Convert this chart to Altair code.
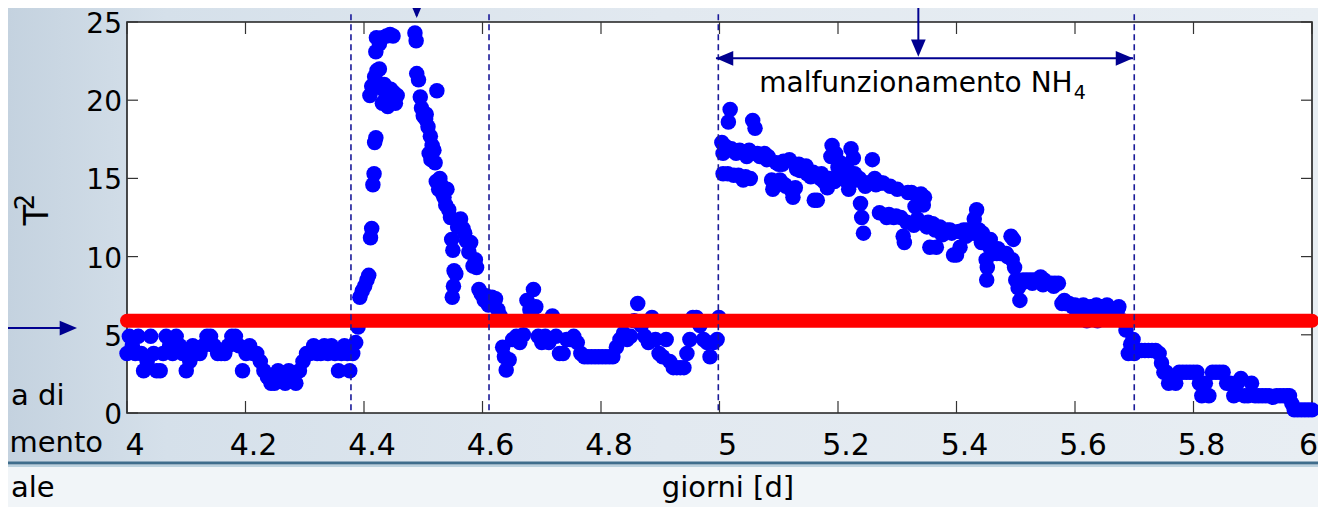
import altair as alt
import pandas as pd

# ---------------- data ----------------
day = [
    # 4.00 - 4.39 (normal operation)
    4.000, 4.004, 4.009, 4.014, 4.019, 4.024, 4.028, 4.034, 4.040, 4.045, 4.050, 4.056, 4.061, 4.066,
    4.072, 4.077, 4.083, 4.089, 4.094, 4.100, 4.106, 4.111, 4.117, 4.123, 4.129, 4.135, 4.141, 4.147,
    4.153, 4.159, 4.165, 4.171, 4.177, 4.183, 4.189, 4.195, 4.201, 4.207, 4.213, 4.219, 4.225, 4.231,
    4.237, 4.243, 4.249, 4.255, 4.261, 4.267, 4.273, 4.279, 4.285, 4.291, 4.297, 4.303, 4.309, 4.315,
    4.321, 4.327, 4.333, 4.339, 4.345, 4.351, 4.357, 4.362, 4.367, 4.372, 4.376, 4.381, 4.386, 4.390,
    # rise
    4.393, 4.397, 4.401, 4.405, 4.408, 4.411, 4.413, 4.415, 4.417, 4.418, 4.420,
    4.420, 4.421, 4.426, 4.431, 4.438, 4.444, 4.449,
    4.410, 4.413, 4.418, 4.422, 4.426, 4.428, 4.431, 4.434, 4.437, 4.440, 4.445, 4.450, 4.453, 4.456,
    # decay
    4.486, 4.488, 4.489, 4.492, 4.523, 4.497, 4.500, 4.504, 4.508, 4.512, 4.515, 4.510, 4.513, 4.518,
    4.522, 4.526, 4.530, 4.535, 4.540, 4.543, 4.546, 4.548, 4.550, 4.552, 4.551, 4.549, 4.555, 4.558,
    4.563, 4.567, 4.573, 4.580, 4.584, 4.590, 4.594, 4.598, 4.603, 4.610, 4.616, 4.622, 4.626, 4.630,
    4.495, 4.505, 4.520, 4.528, 4.533, 4.538, 4.560, 4.570, 4.577, 4.588, 4.606, 4.618,
    # 4.63 - 5.00
    4.634, 4.637, 4.640, 4.645, 4.651, 4.657, 4.663, 4.669, 4.675, 4.680, 4.686, 4.690, 4.694, 4.700,
    4.706, 4.712, 4.718, 4.724, 4.730, 4.736, 4.742, 4.748, 4.754, 4.760, 4.766, 4.772, 4.778, 4.784,
    4.790, 4.796, 4.802, 4.808, 4.814, 4.820, 4.826, 4.832, 4.838, 4.844, 4.850, 4.856, 4.862, 4.868,
    4.874, 4.880, 4.886, 4.892, 4.898, 4.904, 4.910, 4.916, 4.922, 4.928, 4.934, 4.940, 4.945, 4.950,
    4.955, 4.961, 4.967, 4.973, 4.979, 4.984, 4.990, 4.996, 4.999,
    # 5.00 - 5.70 (NH4 malfunction)
    5.004, 5.006, 5.006, 5.010, 5.015, 5.018, 5.022, 5.028, 5.032, 5.038, 5.044, 5.050, 5.056, 5.060,
    5.064, 5.070, 5.076, 5.082, 5.088, 5.090, 5.094, 5.100, 5.106, 5.112, 5.118, 5.122, 5.124, 5.130,
    5.136, 5.142, 5.148, 5.154, 5.160, 5.165, 5.170, 5.176, 5.182, 5.188, 5.190, 5.196, 5.200, 5.206,
    5.212, 5.218, 5.222, 5.226, 5.232, 5.238, 5.240, 5.243, 5.248, 5.254, 5.258, 5.264, 5.270, 5.276,
    5.282, 5.288, 5.294, 5.300, 5.306, 5.310, 5.312, 5.318, 5.324, 5.330, 5.334, 5.340, 5.346, 5.352,
    5.355, 5.360, 5.366, 5.372, 5.378, 5.384, 5.389, 5.395, 5.400, 5.406, 5.412, 5.418, 5.424, 5.430,
    5.434, 5.438, 5.444, 5.450, 5.451, 5.452, 5.457, 5.462, 5.468, 5.474, 5.480, 5.486, 5.492, 5.496,
    5.498, 5.500, 5.504, 5.507, 5.512, 5.518, 5.524, 5.530, 5.536, 5.542, 5.548, 5.554, 5.560, 5.566,
    5.572, 5.578, 5.584, 5.590, 5.596, 5.602, 5.608, 5.614, 5.620, 5.626, 5.632, 5.638, 5.644, 5.650,
    5.656, 5.662, 5.668, 5.674, 5.680, 5.686, 5.690, 5.694, 5.698,
    5.012, 5.020, 5.026, 5.034, 5.046, 5.058, 5.068, 5.080, 5.096, 5.108, 5.014, 5.024, 5.040, 5.052,
    5.102, 5.110, 5.128, 5.134, 5.146, 5.158, 5.172, 5.186, 5.194, 5.204, 5.214, 5.228, 5.236, 5.246,
    5.262, 5.272, 5.286, 5.298, 5.316, 5.328, 5.344, 5.350, 5.364, 5.376, 5.392, 5.404, 5.416, 5.428,
    5.442, 5.456, 5.470, 5.484, 5.494, 5.510, 5.528, 5.546, 5.564, 5.582, 5.600, 5.618, 5.636, 5.654,
    5.672,
    # 5.70 - 6.00
    5.700, 5.706, 5.712, 5.718, 5.724, 5.730, 5.736, 5.742, 5.746, 5.750, 5.754, 5.758, 5.764, 5.770,
    5.776, 5.782, 5.788, 5.794, 5.800, 5.806, 5.810, 5.814, 5.820, 5.826, 5.832, 5.838, 5.844, 5.850,
    5.856, 5.862, 5.868, 5.874, 5.880, 5.886, 5.892, 5.898, 5.904, 5.910, 5.916, 5.922, 5.928, 5.934,
    5.940, 5.946, 5.952, 5.958, 5.962, 5.966, 5.970, 5.976, 5.982, 5.988, 5.994, 6.000,
]

t2 = [
    3.8, 4.9, 4.3, 3.8, 4.9, 3.8, 2.7, 3.3, 4.9, 3.8, 2.7, 2.7, 3.8, 4.9,
    4.3, 3.8, 4.9, 4.3, 3.8, 2.7, 3.3, 4.3, 3.8, 3.8, 4.3, 4.9, 4.9, 4.3,
    3.8, 3.8, 3.8, 4.3, 4.9, 4.9, 4.3, 2.7, 3.8, 4.3, 3.8, 3.8, 3.3, 2.7,
    2.3, 1.9, 1.9, 2.7, 2.3, 1.9, 2.7, 2.3, 1.9, 2.7, 3.3, 3.8, 3.8, 4.3,
    3.8, 3.8, 4.3, 3.8, 4.3, 3.8, 2.7, 3.8, 4.3, 3.8, 2.7, 3.8, 4.5, 5.5,
    7.4, 7.8, 8.1, 8.5, 8.8, 11.2, 11.8, 14.6, 15.3, 17.3, 17.6,
    23.1, 24.0, 23.6, 24.0, 24.1, 24.2, 24.1,
    20.3, 20.9, 21.5, 21.9, 22.0, 20.8, 19.8, 21.0, 20.2, 19.6, 20.7, 20.5, 19.8, 20.3,
    24.3, 23.8, 21.7, 21.3, 20.6, 19.5, 19.0, 18.8, 18.3, 17.7, 17.1, 16.6, 16.2, 16.8,
    14.8, 14.3, 14.6, 13.8, 14.3, 13.0, 12.5, 11.1, 10.4, 9.1, 8.1, 7.4, 8.9, 11.9,
    12.4, 11.8, 11.0, 10.9, 9.4, 9.3, 7.9, 7.6, 7.2, 6.9, 7.4, 7.3, 6.6, 6.2,
    20.2, 19.1, 16.0, 15.0, 14.0, 13.3, 12.0, 11.5, 10.3, 9.8, 7.5, 7.0,
    4.2, 3.6, 2.75, 3.4, 4.7, 4.9, 4.5, 5.0, 7.2, 6.6, 7.9, 6.8, 4.9, 4.5,
    4.9, 4.5, 6.2, 4.9, 3.8, 3.8, 4.7, 4.7, 4.9, 4.5, 3.8, 3.6, 3.6, 3.6,
    3.6, 3.6, 3.6, 3.6, 3.6, 3.6, 4.2, 4.7, 5.1, 4.7, 4.9, 5.9, 7.0, 5.6,
    4.9, 4.5, 6.1, 4.7, 3.8, 3.6, 4.7, 3.3, 2.9, 2.9, 2.9, 2.9, 3.8, 4.7,
    6.1, 6.1, 5.6, 4.7, 4.5, 3.6, 4.5, 4.7, 6.1,
    17.3, 16.6, 15.3, 16.8, 18.6, 19.4, 16.8, 16.6, 15.2, 16.7, 15.1, 16.8, 18.7, 18.2,
    16.6, 16.5, 16.6, 16.4, 14.9, 14.3, 14.6, 15.9, 15.9, 14.5, 16.2, 14.2, 13.8, 15.6,
    15.5, 15.5, 15.3, 15.1, 13.6, 13.6, 15.0, 14.8, 14.4, 16.4, 17.1, 16.6, 15.7, 15.6,
    14.9, 14.3, 16.9, 16.3, 14.9, 13.4, 12.5, 11.5, 14.7, 14.7, 16.2, 14.6, 12.8, 14.7,
    12.5, 14.5, 12.5, 14.3, 12.5, 11.3, 10.9, 14.1, 14.1, 13.2, 12.4, 14.0, 13.8, 12.2,
    10.6, 12.1, 10.6, 11.9, 11.6, 11.7, 11.7, 10.1, 10.1, 10.6, 11.7, 11.7, 11.6, 12.4,
    13.0, 11.7, 11.5, 9.8, 8.5, 9.3, 11.1, 10.2, 10.2, 10.2, 10.2, 10.0, 11.3, 11.1,
    9.3, 8.5, 8.0, 7.2, 8.5, 8.5, 8.5, 8.5, 8.5, 8.7, 8.5, 8.3, 8.3, 8.3,
    8.3, 7.0, 7.0, 7.0, 6.8, 6.8, 6.8, 6.9, 5.9, 6.8, 6.6, 5.9, 6.8, 6.8,
    6.6, 6.6, 6.6, 6.8, 5.9, 5.3, 3.8, 4.4, 4.7,
    17.0, 16.9, 16.7, 16.8, 16.4, 16.6, 16.4, 16.2, 16.0, 16.1, 15.3, 15.2, 14.9, 15.0,
    14.9, 14.6, 14.4, 15.9, 15.8, 15.4, 15.3, 15.0, 14.8, 16.0, 15.7, 15.3, 15.0, 14.5,
    15.0, 14.7, 12.7, 12.6, 12.2, 12.0, 13.3, 11.9, 11.7, 11.4, 11.5, 11.6, 11.3, 11.5,
    10.9, 10.6, 10.5, 10.2, 9.8, 8.3, 8.3, 8.2, 8.1, 7.2, 6.9, 6.7, 6.9, 6.9,
    6.6,
    3.8, 4.0, 4.0, 4.0, 4.0, 4.0, 4.0, 3.8, 3.2, 2.6, 2.6, 1.9, 2.3, 1.9,
    2.6, 2.6, 2.6, 2.6, 2.6, 2.6, 1.9, 1.1, 1.9, 1.1, 2.6, 2.6, 2.6, 2.6,
    1.9, 1.9, 1.1, 1.9, 2.2, 1.1, 1.1, 1.9, 1.1, 1.1, 1.1, 1.1, 1.1, 1.0,
    1.1, 1.1, 1.1, 1.1, 1.1, 0.6, 0.2, 0.2, 0.2, 0.2, 0.2, 0.2,
]

threshold = 5.9                            # red control limit
event_days = [4.378, 4.611, 4.998, 5.700]  # dashed vertical markers
x_ticks = [4.0, 4.2, 4.4, 4.6, 4.8, 5.0, 5.2, 5.4, 5.6, 5.8, 6.0]
x_labels = ["4", "4.2", "4.4", "4.6", "4.8", "5", "5.2", "5.4", "5.6", "5.8", "6"]
y_ticks = [0, 5, 10, 15, 20, 25]
y_labels = ["0", "5", "10", "15", "20", "25"]
x_title = "giorni [d]"
y_title = ["T", "2"]
annotation = "malfunzionamento NH"
annotation_sub = "4"
left_texts = ["a di", "mento", "ale"]

# ---------------- styling ----------------
W, H = 1185, 391
FONT = "DejaVu Sans"
NAVY = "#000090"
DASH = "#1a1a99"

xs = alt.Scale(domain=[4, 6], nice=False, zero=False)
ys = alt.Scale(domain=[0, 25], nice=False, zero=False)

one = pd.DataFrame({"k": [0]})

bg = alt.Chart(one).mark_rect(
    fill=alt.Gradient(
        gradient="linear", x1=0, x2=1, y1=0, y2=0,
        stops=[alt.GradientStop(color="#c4d2df", offset=0),
               alt.GradientStop(color="#d5e0ea", offset=0.12),
               alt.GradientStop(color="#e2e9f0", offset=0.5),
               alt.GradientStop(color="#e8eef3", offset=1)])
).encode(x=alt.value(-119), x2=alt.value(W + 6), y=alt.value(-14), y2=alt.value(441))

bottom_band = alt.Chart(one).mark_rect(fill="#f1f5f8").encode(
    x=alt.value(-119), x2=alt.value(W + 6), y=alt.value(442), y2=alt.value(H + 94))

sep_dark = alt.Chart(one).mark_rule(color="#3f6d8c", strokeWidth=3).encode(
    x=alt.value(-119), x2=alt.value(W + 6), y=alt.value(441))
sep_light = alt.Chart(one).mark_rule(color="#a8c4d6", strokeWidth=1.5).encode(
    x=alt.value(-119), x2=alt.value(W + 6), y=alt.value(444))

box = alt.Chart(one).mark_rect(fill="white", stroke="#1e1e1e", strokeWidth=1.6).encode(
    x=alt.value(0), x2=alt.value(W), y=alt.value(0), y2=alt.value(H))

xt = pd.DataFrame({"t": x_ticks, "lab": x_labels})
yt = pd.DataFrame({"v": y_ticks, "lab": y_labels})
tick_style = dict(color="#333333", strokeWidth=1.2)
xt_bottom = alt.Chart(xt).mark_rule(**tick_style).encode(
    x=alt.X("t:Q", scale=xs, axis=None), y=alt.value(H), y2=alt.value(H - 12))
xt_top = alt.Chart(xt).mark_rule(**tick_style).encode(
    x=alt.X("t:Q", scale=xs, axis=None), y=alt.value(0), y2=alt.value(12))
yt_left = alt.Chart(yt).mark_rule(**tick_style).encode(
    y=alt.Y("v:Q", scale=ys, axis=None), x=alt.value(0), x2=alt.value(11))
yt_right = alt.Chart(yt).mark_rule(**tick_style).encode(
    y=alt.Y("v:Q", scale=ys, axis=None), x=alt.value(W), x2=alt.value(W - 11))

# tick labels (drawn as text so they sit above the slide background)
xl_main = alt.Chart(xt.iloc[:-1]).mark_text(
    font=FONT, fontSize=30, color="#000000", align="center", baseline="alphabetic", dx=8
).encode(x=alt.X("t:Q", scale=xs, axis=None), y=alt.value(H + 42), text="lab:N")
xl_last = alt.Chart(xt.iloc[-1:]).mark_text(
    font=FONT, fontSize=30, color="#000000", align="right", baseline="alphabetic", dx=6
).encode(x=alt.X("t:Q", scale=xs, axis=None), y=alt.value(H + 42), text="lab:N")
yl = alt.Chart(yt).mark_text(
    font=FONT, fontSize=28, color="#000000", align="right", baseline="middle", dx=-5, dy=3
).encode(y=alt.Y("v:Q", scale=ys, axis=None), x=alt.value(0), text="lab:N")

def free_text(txt, x, y, size, align="center", baseline="alphabetic", angle=0):
    return alt.Chart(pd.DataFrame({"t": [txt]})).mark_text(
        font=FONT, fontSize=size, color="#000000", align=align, baseline=baseline, angle=angle
    ).encode(x=alt.value(x), y=alt.value(y), text="t:N")

x_title_mark = free_text(x_title, 601, 475, 29)
y_title_T = free_text(y_title[0], -79, 193, 34, angle=270)
y_title_2 = free_text(y_title[1], -93, 180, 26, angle=270)

pts = pd.DataFrame({"day": day, "t2": t2})
points = alt.Chart(pts).mark_circle(size=240, color="#0000ff", opacity=1).encode(
    x=alt.X("day:Q", scale=xs, axis=None),
    y=alt.Y("t2:Q", scale=ys, axis=None),
)

thr = pd.DataFrame({"a": [4.0], "b": [6.0], "thr": [threshold]})
red = alt.Chart(thr).mark_rule(color="#ff0000", strokeWidth=14, strokeCap="round").encode(
    x=alt.X("a:Q", scale=xs, axis=None), x2="b:Q", y=alt.Y("thr:Q", scale=ys, axis=None))

ev = pd.DataFrame({"d": event_days, "top": [25.5] * 4, "bot": [0.0] * 4})
dashed = alt.Chart(ev).mark_rule(color=DASH, strokeWidth=1.6, strokeDash=[6, 4]).encode(
    x=alt.X("d:Q", scale=xs, axis=None), y=alt.Y("top:Q", scale=ys, axis=None), y2="bot:Q")

# arrows (annotation geometry in data units)
arrow_lines = pd.DataFrame({
    "x0": [4.489, 5.3356, 4.994, 3.78],
    "x1": [4.489, 5.3356, 5.698, 3.895],
    "y0": [27.5, 27.5, 22.68, 5.43],
    "y1": [25.4, 23.0, 22.68, 5.43],
})
lines = alt.Chart(arrow_lines).mark_rule(color=NAVY, strokeWidth=2).encode(
    x=alt.X("x0:Q", scale=xs, axis=None), x2="x1:Q",
    y=alt.Y("y0:Q", scale=ys, axis=None), y2="y1:Q")

down_head = "M-0.85,-2L0.85,-2L0,0Z"
right_head = "M-2,-0.85L-2,0.85L0,0Z"
left_head = "M2,-0.85L2,0.85L0,0Z"
heads_down = pd.DataFrame({"x": [4.489, 5.3356], "y": [25.25, 22.78]})
heads_right = pd.DataFrame({"x": [5.698, 3.9156], "y": [22.68, 5.43]})
heads_left = pd.DataFrame({"x": [4.994], "y": [22.68]})

def heads(df, shape):
    return alt.Chart(df).mark_point(shape=shape, filled=True, size=300, color=NAVY,
                                    opacity=1, strokeWidth=0).encode(
        x=alt.X("x:Q", scale=xs, axis=None), y=alt.Y("y:Q", scale=ys, axis=None))

ann = pd.DataFrame({"x": [5.3316], "y": [20.52], "t": [annotation]})
ann_text = alt.Chart(ann).mark_text(font=FONT, fontSize=28, color="#000000",
                                    align="center", baseline="alphabetic").encode(
    x=alt.X("x:Q", scale=xs, axis=None), y=alt.Y("y:Q", scale=ys, axis=None), text="t:N")
sub = pd.DataFrame({"x": [5.598], "y": [20.1], "t": [annotation_sub]})
sub_text = alt.Chart(sub).mark_text(font=FONT, fontSize=19, color="#000000",
                                    align="left", baseline="alphabetic").encode(
    x=alt.X("x:Q", scale=xs, axis=None), y=alt.Y("y:Q", scale=ys, axis=None), text="t:N")

side = [free_text(left_texts[0], -116, 383, 29, align="left"),
        free_text(left_texts[1], -24, 430, 29, align="right"),
        free_text(left_texts[2], -116, 475, 29, align="left")]

chart = alt.layer(
    bg, bottom_band, sep_dark, sep_light, box,
    xt_bottom, xt_top, yt_left, yt_right,
    points, red, dashed, lines,
    heads(heads_down, down_head), heads(heads_right, right_head), heads(heads_left, left_head),
    ann_text, sub_text, xl_main, xl_last, yl, x_title_mark, y_title_T, y_title_2, *side,
).properties(
    width=W, height=H,
    autosize=alt.AutoSizeParams(type="none"),
    padding={"left": 119, "top": 14, "right": 6, "bottom": 94},
    background="#e2e9f0",
).configure_view(strokeWidth=0)

chart.save("out.html", embed_options={"renderer": "svg", "actions": False})
